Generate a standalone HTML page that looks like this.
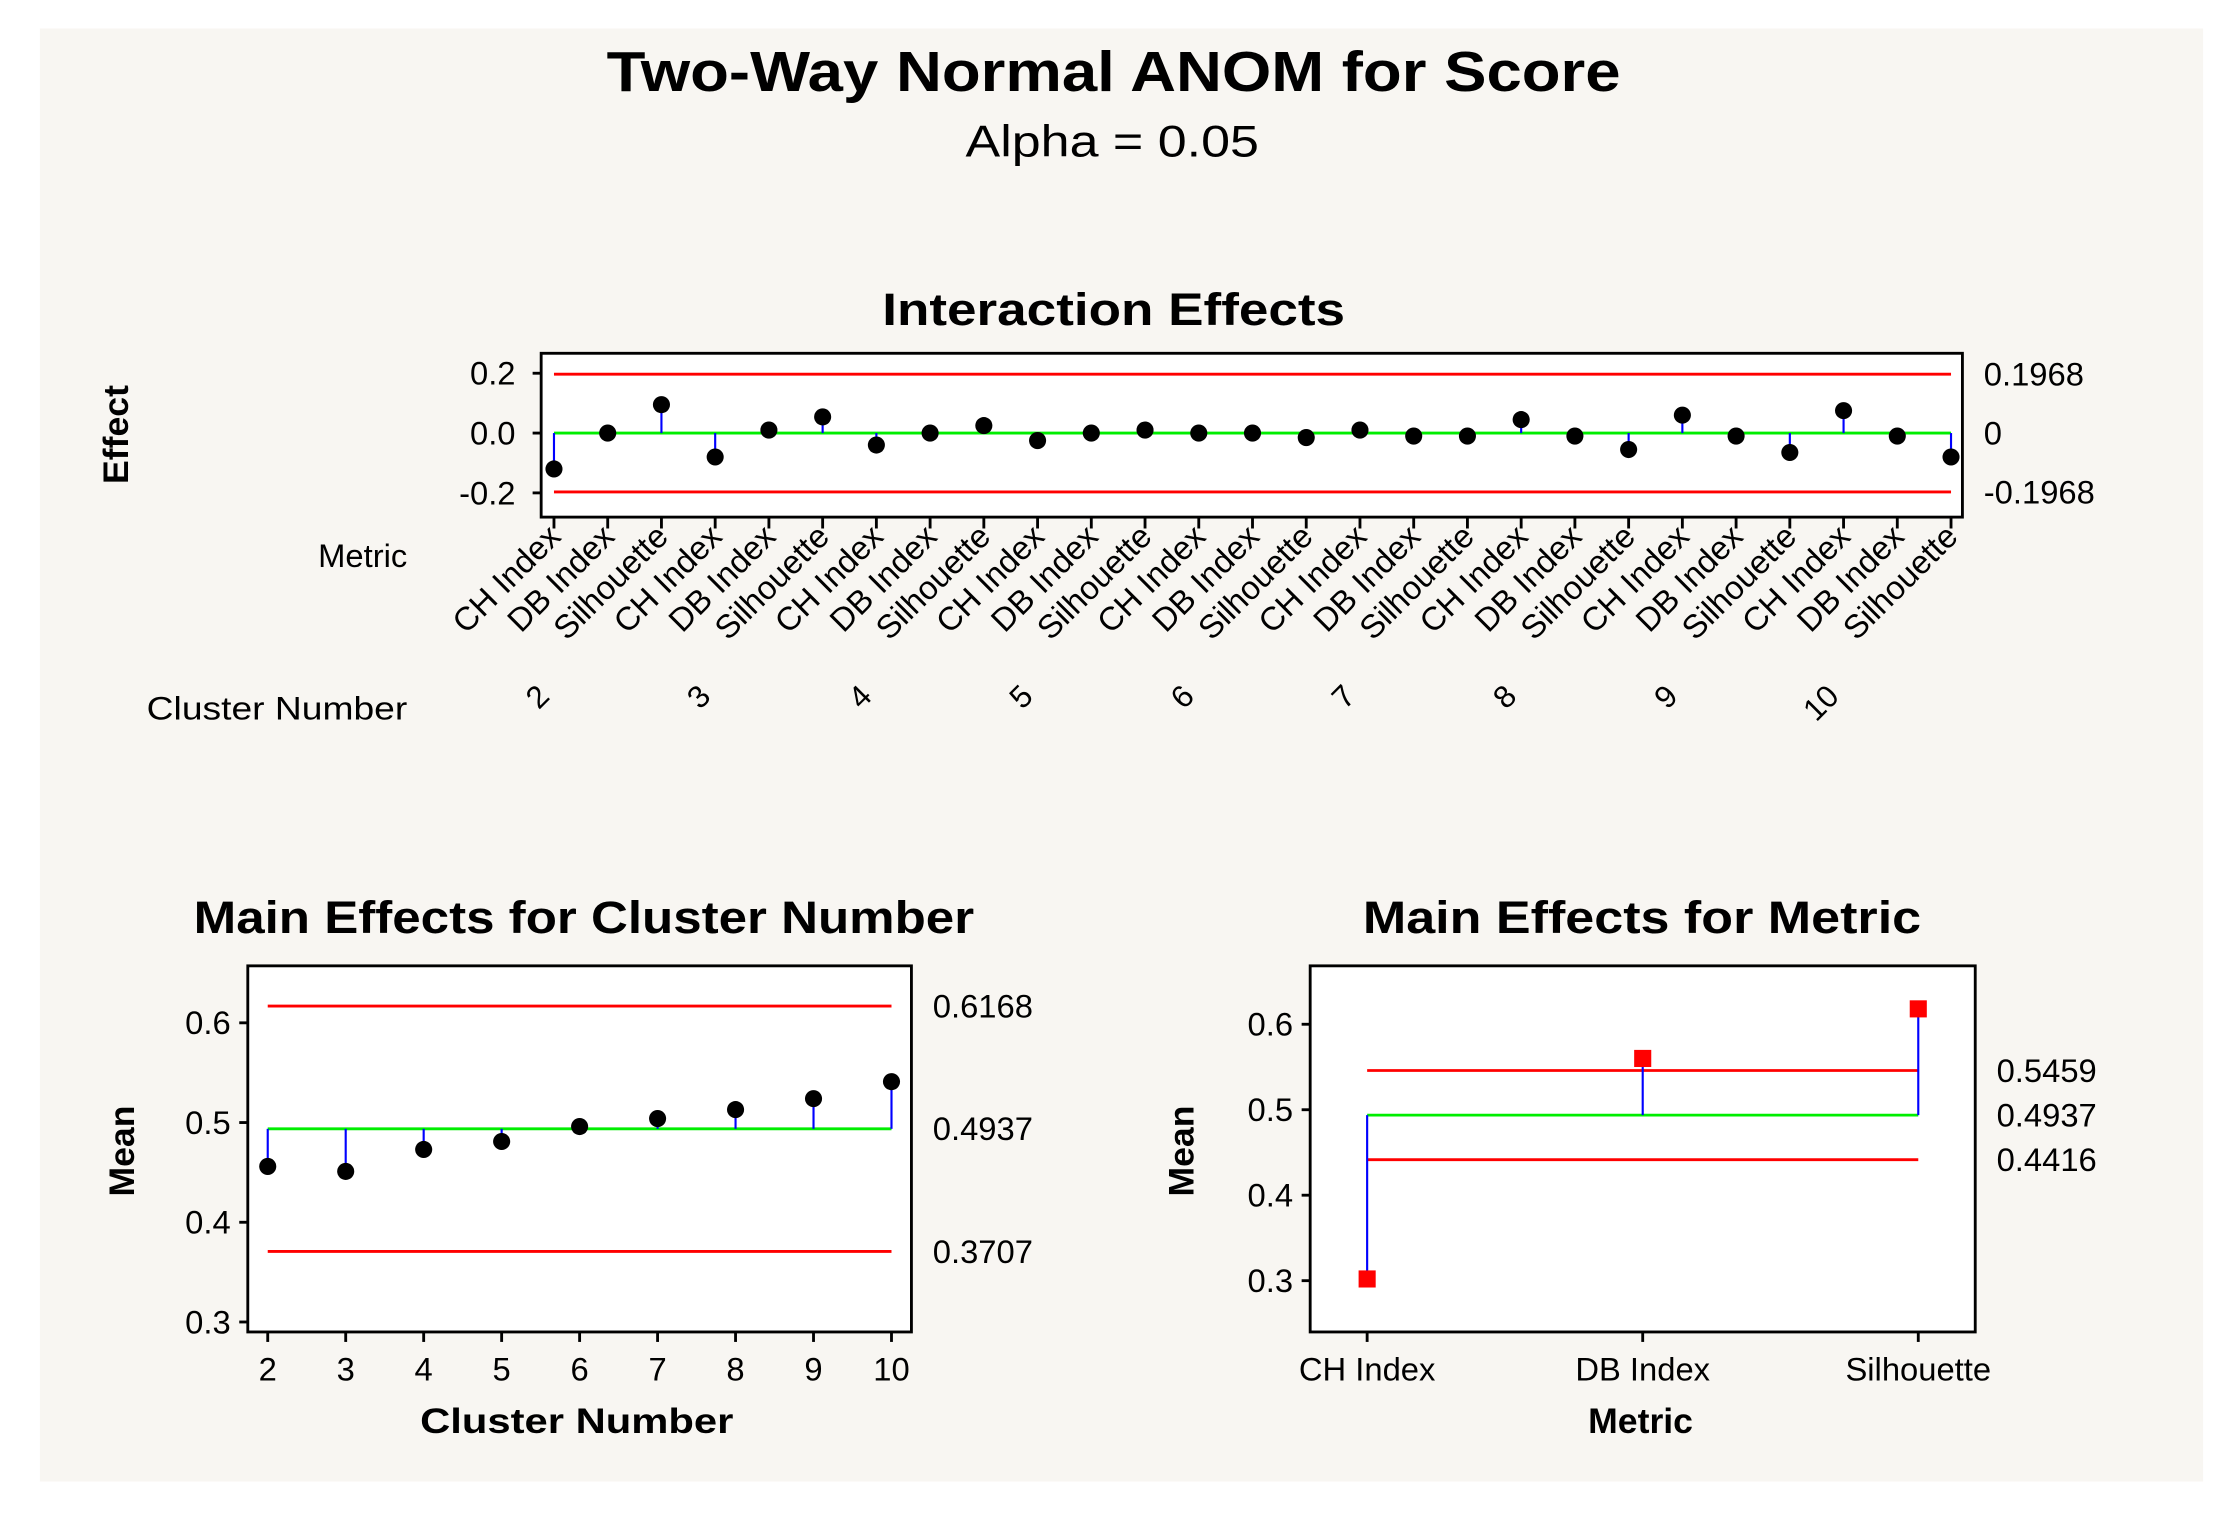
<!DOCTYPE html>
<html><head><meta charset="utf-8"><style>
html,body{margin:0;padding:0;background:#fff;}
svg{display:block;font-family:"Liberation Sans",sans-serif;}
</style></head><body>
<svg id="c" width="2233" height="1520" viewBox="0 0 1568 1067" preserveAspectRatio="none" xmlns="http://www.w3.org/2000/svg">
<rect x="0" y="0" width="1568" height="1067" fill="#fff"/>
<rect x="28" y="20" width="1519" height="1020" fill="#f8f6f2"/>
<text x="782" y="64" font-size="40" font-weight="bold" text-anchor="middle" textLength="712" lengthAdjust="spacingAndGlyphs">Two-Way Normal ANOM for Score</text>
<text x="781" y="110" font-size="31" text-anchor="middle" textLength="206" lengthAdjust="spacingAndGlyphs">Alpha = 0.05</text>
<text x="782" y="228" font-size="32" font-weight="bold" text-anchor="middle" textLength="325" lengthAdjust="spacingAndGlyphs">Interaction Effects</text>
<text x="410" y="655" font-size="32" font-weight="bold" text-anchor="middle" textLength="548" lengthAdjust="spacingAndGlyphs">Main Effects for Cluster Number</text>
<text x="1153" y="655" font-size="32" font-weight="bold" text-anchor="middle" textLength="392" lengthAdjust="spacingAndGlyphs">Main Effects for Metric</text>
<g id="g1"></g>
<g id="g2"></g>
<g id="g3"></g>
</svg>
<script>
const NS="http://www.w3.org/2000/svg";
const clusters=["2","3","4","5","6","7","8","9","10"];
const metrics=["CH Index","DB Index","Silhouette"];
const interactionEffects=[-0.12,0.0,0.095,-0.08,0.01,0.054,-0.04,0.0,0.025,-0.025,0.0,0.01,0.0,0.0,-0.015,0.01,-0.01,-0.01,0.045,-0.01,-0.055,0.06,-0.01,-0.065,0.075,-0.01,-0.08];
const interactionLimits=[0.1968,0,-0.1968];
const interactionTicks=[0.2,0.0,-0.2];
const interactionTickLabels=["0.2","0.0","-0.2"];
const clusterMeans=[0.456,0.451,0.473,0.481,0.496,0.504,0.513,0.524,0.541];
const clusterLimits=[0.6168,0.4937,0.3707];
const mainTicks=[0.6,0.5,0.4,0.3];
const mainTickLabels=["0.6","0.5","0.4","0.3"];
const metricMeans=[0.302,0.560,0.618];
const metricLimits=[0.5459,0.4937,0.4416];

function el(p,t,a,txt){const e=document.createElementNS(NS,t);for(const k in a)e.setAttribute(k,a[k]);if(txt!==undefined)e.textContent=txt;p.appendChild(e);return e;}

// ---------- interaction plot ----------
(function(){
const g=document.getElementById('g1');
const y=v=>304-v*210;
const x=i=>389+i*(1370-389)/26;
const b=el(g,'rect',{x:380,y:248,width:998,height:115,fill:'#fff',stroke:'#000','stroke-width':2});


interactionTicks.forEach((t,i)=>{
 el(g,'line',{x1:374,x2:380,y1:y(t),y2:y(t),stroke:'#000','stroke-width':2});
 const tl=el(g,'text',{x:362,y:y(t)+8,'font-size':23,'text-anchor':'end'},interactionTickLabels[i]);
 
 
});
interactionLimits.forEach((v,i)=>{
 const l=el(g,'line',{x1:389,x2:1370,y1:y(v),y2:y(v),stroke:v===0?'#00ee00':'#ff0000','stroke-width':2});
 
 
 const t=el(g,'text',{x:1393,y:y(v)+8,'font-size':23},v===0?'0':v.toFixed(4));
 
 
});
interactionEffects.forEach((v,i)=>{
 el(g,'line',{x1:x(i),x2:x(i),y1:y(0),y2:y(v),stroke:'#0000ff','stroke-width':1.5});
 const c=el(g,'circle',{cx:x(i),cy:y(v),r:6,fill:'#000'});
 
 
 el(g,'line',{x1:x(i),x2:x(i),y1:363,y2:371,stroke:'#000','stroke-width':2});
 const m=metrics[i%3];
 const t=el(g,'text',{x:0,y:0,'font-size':23,'text-anchor':'end',transform:`translate(${x(i)+6},${378}) rotate(-45)`},m);
 
 
});
clusters.forEach((c,k)=>{
 const t=el(g,'text',{x:0,y:0,'font-size':22,'text-anchor':'end',transform:`translate(${x(k*3)-2},${490}) rotate(-45)`},c);
 
 
});
let t=el(g,'text',{x:286,y:398,'font-size':23,'text-anchor':'end'},'Metric');


t=el(g,'text',{x:286,y:505,'font-size':23,'text-anchor':'end','textLength':183,'lengthAdjust':'spacingAndGlyphs'},'Cluster Number');


t=el(g,'text',{x:0,y:0,'font-size':25,'font-weight':'bold','text-anchor':'middle',transform:'translate(90,305) rotate(-90)'},'Effect');


})();

// ---------- cluster main effects ----------
(function(){
const g=document.getElementById('g2');
const y=v=>788-(v-0.5)*700;
const x=i=>188+i*(626-188)/8;
const b=el(g,'rect',{x:174,y:678,width:466,height:257,fill:'#fff',stroke:'#000','stroke-width':2});


mainTicks.forEach((t,i)=>{
 el(g,'line',{x1:168,x2:174,y1:y(t),y2:y(t),stroke:'#000','stroke-width':2});
 const tl=el(g,'text',{x:162,y:y(t)+8,'font-size':23,'text-anchor':'end'},mainTickLabels[i]);
 
 
});
clusterLimits.forEach((v,i)=>{
 const l=el(g,'line',{x1:188,x2:626,y1:y(v),y2:y(v),stroke:i===1?'#00ee00':'#ff0000','stroke-width':2});
 
 
 const t=el(g,'text',{x:655,y:y(v)+8,'font-size':23},v.toFixed(4));
 
 
});
clusterMeans.forEach((v,i)=>{
 el(g,'line',{x1:x(i),x2:x(i),y1:y(clusterLimits[1]),y2:y(v),stroke:'#0000ff','stroke-width':1.5});
 const c=el(g,'circle',{cx:x(i),cy:y(v),r:6,fill:'#000'});
 
 
 el(g,'line',{x1:x(i),x2:x(i),y1:935,y2:942,stroke:'#000','stroke-width':2});
 const t=el(g,'text',{x:x(i),y:969,'font-size':23,'text-anchor':'middle'},clusters[i]);
 
 
});
let t=el(g,'text',{x:405,y:1006,'font-size':25,'font-weight':'bold','text-anchor':'middle','textLength':220,'lengthAdjust':'spacingAndGlyphs'},'Cluster Number');


t=el(g,'text',{x:0,y:0,'font-size':25,'font-weight':'bold','text-anchor':'middle',transform:'translate(94,808) rotate(-90)'},'Mean');


})();

// ---------- metric main effects ----------
(function(){
const g=document.getElementById('g3');
const y=v=>779-(v-0.5)*600;
const x=i=>960+i*(1347-960)/2;
const b=el(g,'rect',{x:920,y:678,width:467,height:257,fill:'#fff',stroke:'#000','stroke-width':2});


mainTicks.forEach((t,i)=>{
 el(g,'line',{x1:914,x2:920,y1:y(t),y2:y(t),stroke:'#000','stroke-width':2});
 const tl=el(g,'text',{x:908,y:y(t)+8,'font-size':23,'text-anchor':'end'},mainTickLabels[i]);
 
 
});
metricLimits.forEach((v,i)=>{
 const l=el(g,'line',{x1:960,x2:1347,y1:y(v),y2:y(v),stroke:i===1?'#00ee00':'#ff0000','stroke-width':2});
 
 
 const t=el(g,'text',{x:1402,y:y(v)+8,'font-size':23},v.toFixed(4));
 
 
});
metricMeans.forEach((v,i)=>{
 el(g,'line',{x1:x(i),x2:x(i),y1:y(metricLimits[1]),y2:y(v),stroke:'#0000ff','stroke-width':1.5});
 const r=el(g,'rect',{x:x(i)-6,y:y(v)-6,width:12,height:12,fill:'#ff0000'});
 
 
 el(g,'line',{x1:x(i),x2:x(i),y1:935,y2:942,stroke:'#000','stroke-width':2});
 const t=el(g,'text',{x:x(i),y:969,'font-size':23,'text-anchor':'middle'},metrics[i]);
 
 
});
let t=el(g,'text',{x:1152,y:1006,'font-size':25,'font-weight':'bold','text-anchor':'middle'},'Metric');


t=el(g,'text',{x:0,y:0,'font-size':25,'font-weight':'bold','text-anchor':'middle',transform:'translate(838,808) rotate(-90)'},'Mean');


})();
</script>
</body></html>
